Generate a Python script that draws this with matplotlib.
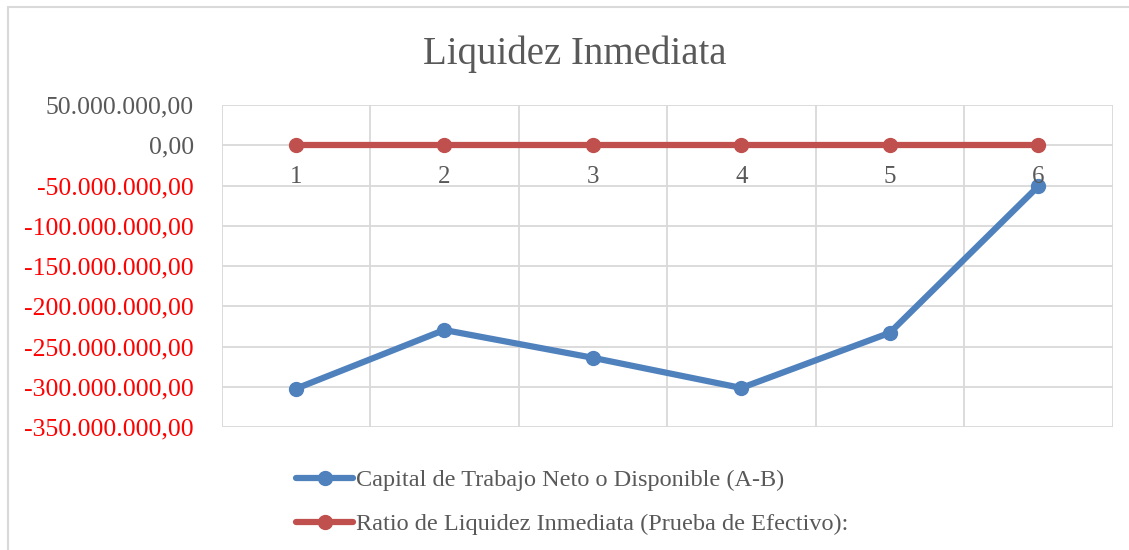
import matplotlib
matplotlib.use("Agg")
import matplotlib.pyplot as plt
from matplotlib.patches import Rectangle
from matplotlib.ticker import FixedLocator

categories = ["1", "2", "3", "4", "5", "6"]
capital = [-302_500_000, -229_500_000, -264_000_000, -301_500_000, -233_000_000, -51_000_000]
ratio = [0, 0, 0, 0, 0, 0]
y_ticks = [50_000_000, 0, -50_000_000, -100_000_000, -150_000_000, -200_000_000,
           -250_000_000, -300_000_000, -350_000_000]
series_names = ["Capital de Trabajo Neto o Disponible (A-B)",
                "Ratio de Liquidez Inmediata (Prueba de Efectivo):"]

FONT = ["Liberation Serif", "DejaVu Serif"]
GRAY = "#595959"
BLUE = "#4F81BD"
RED = "#C0504D"
GRID = "#D9D9D9"

W, H = 1129, 550
fig = plt.figure(figsize=(W / 100, H / 100), dpi=100)

# figure border (left and top visible)
fig.patches.append(Rectangle((8 / W, -0.1), 1.2, 1 - 7 / H + 0.1,
                             transform=fig.transFigure, fill=False,
                             edgecolor=GRID, linewidth=1.5))

ax = fig.add_axes([221.5 / W, 1 - 427 / H, (1112.5 - 221.5) / W, (427 - 105) / H])
x = list(range(1, len(categories) + 1))

l1, = ax.plot(x, capital, color=BLUE, linewidth=4.5, marker="o", markersize=10,
              solid_capstyle="round", zorder=3)
l2, = ax.plot(x, ratio, color=RED, linewidth=4.5, marker="o", markersize=10,
              solid_capstyle="round", zorder=3)

ax.set_xlim(0.5, len(categories) + 0.5)
ax.set_ylim(-350_000_000, 50_000_000)
ax.set_yticks(y_ticks)

def fmt(v):
    s = f"{abs(v):,.2f}".replace(",", "X").replace(".", ",").replace("X", ".")
    return ("-" if v < 0 else "") + s

ax.set_yticklabels([fmt(v) for v in y_ticks], fontfamily=FONT, fontsize=18.5)
for lab, v in zip(ax.get_yticklabels(), y_ticks):
    lab.set_color("#FF0000" if v < 0 else GRAY)
ax.tick_params(axis="y", length=0, pad=20)

ax.set_xticks([])
ax.xaxis.set_minor_locator(FixedLocator([i + 0.5 for i in range(0, len(categories) + 1)]))
ax.tick_params(axis="x", which="both", length=0)
ax.grid(True, axis="y", color=GRID, linewidth=1.3, zorder=0)
ax.grid(True, axis="x", which="minor", color=GRID, linewidth=1.3, zorder=0)
for s in ax.spines.values():
    s.set_visible(False)

# category labels placed just below the zero line
for xi, c in zip(x, categories):
    ax.annotate(c, (xi, 0), xytext=(0, -23), textcoords="offset points",
                ha="center", va="center", fontfamily=FONT, fontsize=18, color=GRAY,
                zorder=4)

fig.text(575 / W, 1 - 54 / H, "Liquidez Inmediata", ha="center", va="center",
         fontfamily=FONT, fontsize=28, color=GRAY)

leg = fig.legend([l1, l2], series_names, loc="upper left",
                 bbox_to_anchor=(279 / W, 1 - 452 / H), frameon=False,
                 prop={"family": FONT, "size": 17.5}, labelcolor=GRAY,
                 handlelength=2.35, handletextpad=0.12, labelspacing=0.92,
                 borderpad=0.2)

fig.savefig("out.png", dpi=100)
